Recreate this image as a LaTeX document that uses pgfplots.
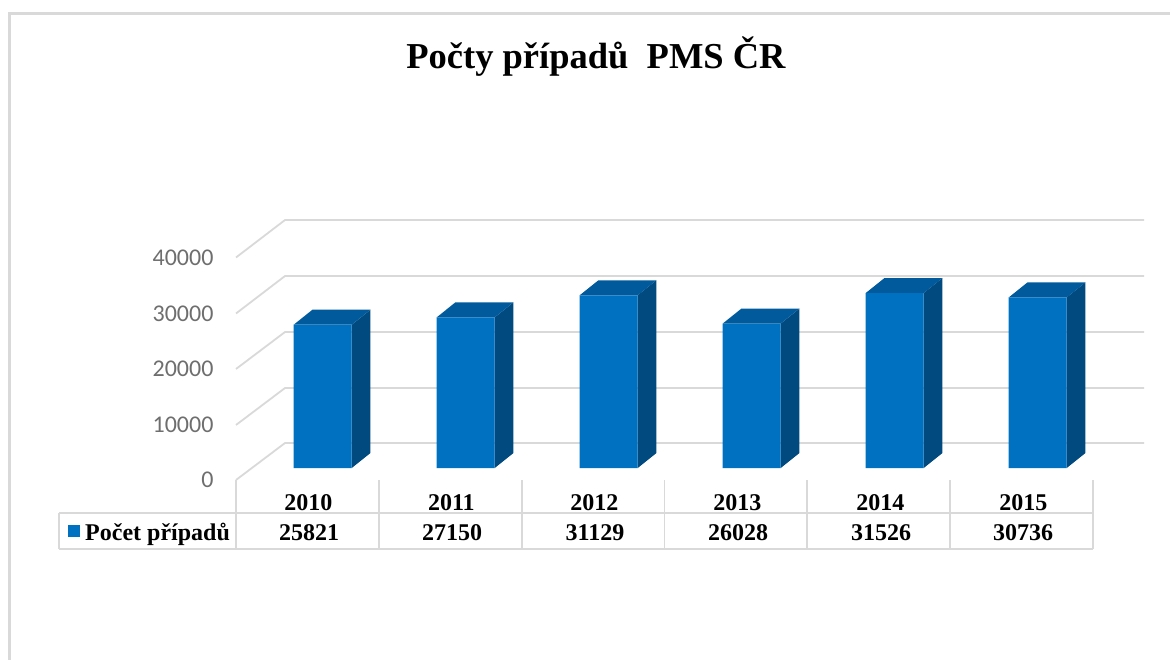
\documentclass[border=0pt]{standalone}
\usepackage{fontspec}
\setmainfont{Liberation Serif}
\newfontfamily\tickfont{Carlito}
\usepackage{pgfplots}
\pgfplotsset{compat=1.18}
\definecolor{barfront}{HTML}{0070C0}
\definecolor{bartop}{HTML}{005A9B}
\definecolor{barside}{HTML}{004A80}
\definecolor{gridgray}{HTML}{D9D9D9}
\definecolor{ticktext}{HTML}{6E6E6E}
\begin{document}
\begin{tikzpicture}[x=1pt,y=-1pt]
\path[use as bounding box] (0,0) rectangle (1170,660);
% chart frame, open on the right and at the bottom
\draw[gridgray,line width=2.5pt] (9.5,660) -- (9.5,13.5) -- (1170,13.5);
\node[font=\fontsize{36.5}{36.5}\selectfont\bfseries,anchor=base] at (596,69) {Počty případů\hspace{0.25em} PMS ČR};
% walls
\foreach \w/\f in {220/257.5,276/313.5,332/369,388/425,443/480}
  \draw[gridgray,line width=1.8pt] (236,\f) -- (285,\w) -- (1144,\w);
% data table
\draw[gridgray,line width=1.8pt] (59,513) -- (1093,513) (59,549) -- (1093,549) (59,513) -- (59,549);
\foreach \x in {236,378.8,521.6,664.4,807.2,950,1093}
  \draw[gridgray,line width=1.8pt] (\x,480) -- (\x,549);
\begin{axis}[
  at={(236pt,-480pt)}, anchor=south west,
  x=1pt*143, y=0.00556pt,
  scale only axis,
  width=908pt, height=260pt,
  xmin=-0.6063, xmax=5.7434,
  ymin=-2158, ymax=44604,
  clip=false,
  axis line style={draw=none},
  major tick length=0pt,
  scaled y ticks=false,
  xtick={-0.1,0.9,1.9,2.9,3.9,4.9},
  xticklabels={2010,2011,2012,2013,2014,2015},
  xticklabel style={anchor=base,yshift=-30pt,font=\fontsize{24}{24}\selectfont\bfseries},
  ytick={-2158,7842,17842,27842,37842},
  yticklabels={0,10000,20000,30000,40000},
  yticklabel style={anchor=east,xshift=-19pt,text=ticktext,font=\fontsize{24}{24}\selectfont\tickfont},
  /pgf/number format/assume math mode=true,
]
% side faces
\addplot[fill=barside,draw=none] coordinates {(0.2028,0) (0.3336,2698) (0.3336,28519) (0.2028,25821)} --cycle;
\addplot[fill=barside,draw=none] coordinates {(1.2028,0) (1.3336,2698) (1.3336,29848) (1.2028,27150)} --cycle;
\addplot[fill=barside,draw=none] coordinates {(2.2028,0) (2.3336,2698) (2.3336,33827) (2.2028,31129)} --cycle;
\addplot[fill=barside,draw=none] coordinates {(3.2028,0) (3.3336,2698) (3.3336,28726) (3.2028,26028)} --cycle;
\addplot[fill=barside,draw=none] coordinates {(4.2028,0) (4.3336,2698) (4.3336,34224) (4.2028,31526)} --cycle;
\addplot[fill=barside,draw=none] coordinates {(5.2028,0) (5.3336,2698) (5.3336,33434) (5.2028,30736)} --cycle;
% top faces
\addplot[fill=bartop,draw=none] coordinates {(-0.2028,25821) (0.2028,25821) (0.3336,28519) (-0.0720,28519)} --cycle;
\addplot[fill=bartop,draw=none] coordinates {(0.7972,27150) (1.2028,27150) (1.3336,29848) (0.9280,29848)} --cycle;
\addplot[fill=bartop,draw=none] coordinates {(1.7972,31129) (2.2028,31129) (2.3336,33827) (1.9280,33827)} --cycle;
\addplot[fill=bartop,draw=none] coordinates {(2.7972,26028) (3.2028,26028) (3.3336,28726) (2.9280,28726)} --cycle;
\addplot[fill=bartop,draw=none] coordinates {(3.7972,31526) (4.2028,31526) (4.3336,34224) (3.9280,34224)} --cycle;
\addplot[fill=bartop,draw=none] coordinates {(4.7972,30736) (5.2028,30736) (5.3336,33434) (4.9280,33434)} --cycle;
% front faces
\addplot[ybar,bar width=58pt,fill=barfront,draw=none] coordinates {(0,25821) (1,27150) (2,31129) (3,26028) (4,31526) (5,30736)};
\end{axis}
% table row
\fill[barfront] (68,525) rectangle (80,537);
\node[font=\fontsize{24}{24}\selectfont\bfseries,anchor=base west,inner sep=0pt] at (85,540) {Počet případů};
\foreach \x/\v in {309/25821,452/27150,595/31129,738/26028,881/31526,1023/30736}
  \node[font=\fontsize{24}{24}\selectfont\bfseries,anchor=base,inner sep=0pt] at (\x,540) {\v};
\end{tikzpicture}
\end{document}
